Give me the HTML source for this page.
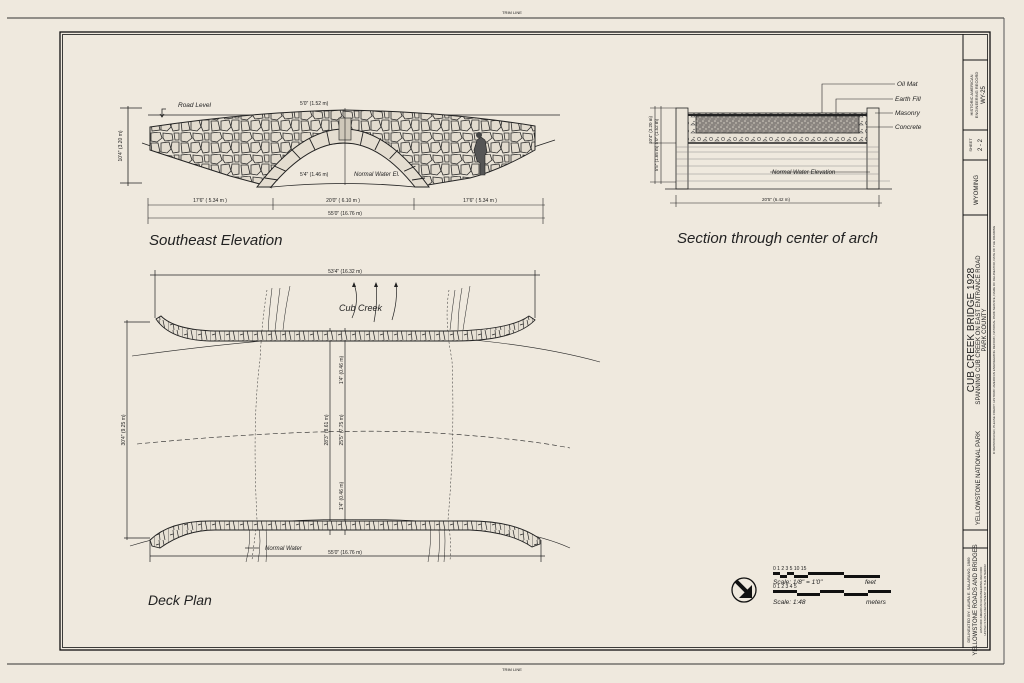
<!DOCTYPE html>
<html><head><meta charset="utf-8"><style>
html,body{margin:0;padding:0;background:#efe9de;}
svg{display:block}
text{font-family:"Liberation Sans",sans-serif;fill:#222}
.it{font-style:italic}
</style></head><body>
<svg width="1024" height="683" viewBox="0 0 1024 683" xmlns="http://www.w3.org/2000/svg">
<defs>
<pattern id="stone" width="30" height="22" patternUnits="userSpaceOnUse">
<rect width="30" height="22" fill="#e9e3d7"/>
<path d="M1 1 L10 0 L12 6 L7 10 L1 9 Z M13 1 L22 2 L23 8 L15 9 L13 6 Z M24 1 L29 1 L29 8 L25 8 Z M1 11 L8 11 L10 20 L2 21 Z M11 11 L19 10 L21 17 L17 21 L11 20 Z M22 10 L29 10 L29 20 L23 21 L21 16 Z" fill="#e2dbce" stroke="#2a2a2a" stroke-width="0.8"/>
</pattern>
<pattern id="stone2" width="14" height="10" patternUnits="userSpaceOnUse">
<rect width="14" height="10" fill="#e6e0d4"/>
<path d="M0 0 V10 M5 0 L6 10 M9 0 L11 10 M2 5 L5 4" stroke="#2a2a2a" stroke-width="0.7"/>
</pattern>
<pattern id="fill" width="6" height="6" patternUnits="userSpaceOnUse">
<rect width="6" height="6" fill="#8a8580"/>
<circle cx="1" cy="1" r="0.8" fill="#d8d2c6"/><circle cx="4" cy="3" r="0.7" fill="#e0dacd"/><circle cx="2" cy="5" r="0.6" fill="#cfc9bc"/>
</pattern>
<pattern id="conc" width="12" height="8" patternUnits="userSpaceOnUse">
<rect width="12" height="8" fill="#e8e2d6"/>
<circle cx="3" cy="3" r="1.6" fill="none" stroke="#555" stroke-width="0.6"/><path d="M7 5 l2 -2 l2 2z" fill="none" stroke="#555" stroke-width="0.6"/><circle cx="10" cy="1.5" r="0.6" fill="#444"/>
</pattern>
</defs>

<!-- trim & frame -->
<line x1="7" y1="18" x2="1004" y2="18" stroke="#333" stroke-width="1"/>
<line x1="1004" y1="18" x2="1004" y2="664" stroke="#555" stroke-width="1"/>
<line x1="7" y1="664" x2="1004" y2="664" stroke="#333" stroke-width="1"/>
<text x="512" y="14" font-size="4" text-anchor="middle">TRIM LINE</text>
<text x="512" y="671" font-size="4" text-anchor="middle">TRIM LINE</text>
<rect x="60" y="32" width="930" height="618" fill="none" stroke="#111" stroke-width="1.3"/>
<rect x="62.5" y="34.5" width="925" height="613" fill="none" stroke="#111" stroke-width="0.8"/>

<!-- title block -->
<g stroke="#111" stroke-width="1" fill="none">
<line x1="963" y1="34" x2="963" y2="648"/>
<line x1="963" y1="60" x2="988" y2="60"/>
<line x1="963" y1="130" x2="988" y2="130"/>
<line x1="963" y1="160" x2="988" y2="160"/>
<line x1="963" y1="215" x2="988" y2="215"/>
<line x1="963" y1="530" x2="988" y2="530"/>
<line x1="963" y1="548" x2="988" y2="548"/>
</g>
<g font-size="5.5">
<text transform="translate(973,95) rotate(-90)" text-anchor="middle" font-size="4">HISTORIC AMERICAN</text>
<text transform="translate(978,95) rotate(-90)" text-anchor="middle" font-size="4">ENGINEERING RECORD</text>
<text transform="translate(985,95) rotate(-90)" text-anchor="middle" font-size="6">WY-25</text>
<text transform="translate(972,145) rotate(-90)" text-anchor="middle" font-size="4">SHEET</text>
<text transform="translate(982,145) rotate(-90)" text-anchor="middle" font-size="6">2 - 2</text>
<text transform="translate(978,190) rotate(-90)" text-anchor="middle" font-size="6">WYOMING</text>
<text transform="translate(974,330) rotate(-90)" text-anchor="middle" font-size="10">CUB  CREEK  BRIDGE    1928</text>
<text transform="translate(980,330) rotate(-90)" text-anchor="middle" font-size="6">SPANNING CUB CREEK ON EAST ENTRANCE ROAD</text>
<text transform="translate(986,330) rotate(-90)" text-anchor="middle" font-size="6">PARK COUNTY</text>
<text transform="translate(980,478) rotate(-90)" text-anchor="middle" font-size="6">YELLOWSTONE  NATIONAL  PARK</text>
<text transform="translate(970,600) rotate(-90)" text-anchor="middle" font-size="4">DELINEATED BY: LAURA E. SALARANO, 1989</text>
<text transform="translate(977,600) rotate(-90)" text-anchor="middle" font-size="6">YELLOWSTONE ROADS AND BRIDGES</text>
<text transform="translate(982,600) rotate(-90)" text-anchor="middle" font-size="3">HISTORIC AMERICAN ENGINEERING RECORD</text>
<text transform="translate(986,600) rotate(-90)" text-anchor="middle" font-size="3">UNITED STATES DEPARTMENT OF THE INTERIOR</text>
<text transform="translate(995,340) rotate(-90)" text-anchor="middle" font-size="3">IF REPRODUCED, PLEASE CREDIT: HISTORIC AMERICAN ENGINEERING RECORD, NATIONAL PARK SERVICE, NAME OF DELINEATOR, DATE OF THE DRAWING</text>
</g>

<!-- SOUTHEAST ELEVATION -->
<g stroke="#222" stroke-width="0.8" fill="none">
<line x1="148" y1="115" x2="560" y2="115"/>
<path d="M166 109 h-4 v8" /><path d="M160 114 l2 3 l2 -3"/>
<line x1="120" y1="108" x2="142" y2="108"/><line x1="120" y1="183" x2="142" y2="183"/>
<line x1="128" y1="106" x2="128" y2="186"/>
<line x1="142" y1="143" x2="272" y2="188"/><line x1="415" y1="186" x2="555" y2="140"/>
</g>
<path d="M150 127 Q250 112 345 110 Q450 112 535 126 L535 150 Q500 170 470 178 L416 187 Q400 145 345 143 Q290 145 271 187 L230 176 Q180 160 150 150 Z" fill="url(#stone)" stroke="#222" stroke-width="1"/>
<path d="M257 187 Q345 71 429 187 L415 187 Q345 99 271 187 Z" fill="#e4ddd0" stroke="#222" stroke-width="1"/>
<g stroke="#222" stroke-width="0.9">
<line x1="285.8" y1="171.2" x2="274.6" y2="166.1"/><line x1="300.4" y1="158.8" x2="292.1" y2="149.9"/><line x1="315.1" y1="150" x2="309.4" y2="138.3"/><line x1="329.6" y1="144.8" x2="326.7" y2="131.3"/>
<line x1="360.4" y1="144.8" x2="363.3" y2="131.3"/><line x1="374.9" y1="150" x2="380.6" y2="138.3"/><line x1="389.6" y1="158.8" x2="397.9" y2="149.9"/><line x1="404.2" y1="171.2" x2="415.4" y2="166.1"/>
<line x1="278" y1="180" x2="265" y2="178"/><line x1="412" y1="180" x2="425" y2="178"/>
</g>
<path d="M272 187 Q345 180 415 187" fill="#efe9de" stroke="#222" stroke-width="0.8"/>
<rect x="339" y="118" width="12" height="22" fill="#cfc8ba" stroke="#333" stroke-width="0.7"/>
<path d="M474 150 l3 -10 l4 -3 l4 3 l2 12 l-2 3 v20 h-5 v-12 l-3 -2 z" fill="#555" stroke="#222" stroke-width="0.6"/>
<circle cx="479" cy="135" r="3" fill="#444"/>
<g stroke="#222" stroke-width="0.6">
<line x1="345" y1="108" x2="345" y2="185"/>
<line x1="148" y1="205" x2="545" y2="205"/><line x1="148" y1="218" x2="545" y2="218"/>
<line x1="148" y1="198" x2="148" y2="224"/><line x1="273" y1="198" x2="273" y2="210"/><line x1="414" y1="198" x2="414" y2="210"/><line x1="543" y1="198" x2="543" y2="224"/>
</g>
<g font-size="5">
<text x="178" y="107" font-size="6.5" class="it">Road  Level</text>
<text x="300" y="105">5'0" (1.52 m)</text>
<text x="300" y="176">5'4" (1.46 m)</text>
<text x="354" y="176" font-size="6" class="it">Normal Water El.</text>
<text transform="translate(122,146) rotate(-90)" text-anchor="middle">10'4" (3.20 m)</text>
<text x="210" y="202" text-anchor="middle">17'6" ( 5.34 m )</text>
<text x="343" y="202" text-anchor="middle">20'0" ( 6.10 m )</text>
<text x="480" y="202" text-anchor="middle">17'6" ( 5.34 m )</text>
<text x="345" y="215" text-anchor="middle">55'0" (16.76 m)</text>
</g>
<text x="149" y="245" font-size="15" class="it">Southeast  Elevation</text>

<!-- SECTION -->
<g stroke="#222" stroke-width="0.8">
<rect x="688" y="113" width="179" height="30" fill="url(#conc)"/>
<path d="M696 116 H859 V133 H696 Z" fill="url(#fill)"/>
<line x1="688" y1="115" x2="867" y2="115" stroke-width="2"/>
<line x1="688" y1="143" x2="867" y2="143" stroke-width="1.5"/>
<rect x="676" y="108" width="12" height="81" fill="#ebe5d9"/>
<rect x="867" y="108" width="12" height="81" fill="#ebe5d9"/>
<g stroke-width="0.4" stroke="#777">
<line x1="676" y1="147" x2="879" y2="147"/><line x1="676" y1="152" x2="879" y2="152"/><line x1="676" y1="159" x2="879" y2="159"/><line x1="676" y1="166" x2="879" y2="166"/><line x1="676" y1="174" x2="879" y2="174"/><line x1="676" y1="181" x2="890" y2="181"/>
</g>
<line x1="665" y1="189" x2="892" y2="189"/>
<line x1="670" y1="203" x2="882" y2="203" stroke-width="0.6"/>
<line x1="676" y1="195" x2="676" y2="207" stroke-width="0.6"/><line x1="879" y1="195" x2="879" y2="207" stroke-width="0.6"/>
<line x1="650" y1="108" x2="676" y2="108" stroke-width="0.6"/><line x1="650" y1="143" x2="676" y2="143" stroke-width="0.6"/><line x1="650" y1="182" x2="676" y2="182" stroke-width="0.6"/>
<line x1="655" y1="106" x2="655" y2="184" stroke-width="0.6"/><line x1="661" y1="106" x2="661" y2="184" stroke-width="0.6"/>
<g fill="none" stroke-width="0.6">
<polyline points="822,113 822,84 895,84"/>
<polyline points="836,120 836,99 893,99"/>
<line x1="875" y1="113" x2="893" y2="113"/>
<line x1="866" y1="127" x2="893" y2="127"/>
<line x1="770" y1="172" x2="870" y2="172"/>
</g>
</g>
<g font-size="6.5" class="it">
<text x="897" y="86">Oil Mat</text><text x="895" y="101">Earth Fill</text><text x="895" y="115">Masonry</text><text x="895" y="129">Concrete</text>
<text x="772" y="174" font-size="6">Normal Water Elevation</text>
</g>
<g font-size="4.5">
<text x="776" y="201" text-anchor="middle">20'5" (6.42 m)</text>
<text transform="translate(652,130) rotate(-90)" text-anchor="middle">10'4" (3.20 m)</text>
<text transform="translate(658,145) rotate(-90)" text-anchor="middle">5'5" (1.65 m) 5'0" (1.52 m)</text>
</g>
<text x="677" y="243" font-size="15" class="it">Section  through  center  of  arch</text>

<!-- DECK PLAN -->
<g stroke="#222" stroke-width="0.7" fill="none">
<line x1="150" y1="275" x2="540" y2="275"/>
<line x1="155" y1="270" x2="155" y2="318"/><line x1="535" y1="270" x2="535" y2="318"/>
<line x1="124" y1="322" x2="150" y2="322"/><line x1="124" y1="538" x2="150" y2="538"/>
<line x1="127" y1="320" x2="127" y2="540"/>
<line x1="150" y1="556" x2="545" y2="556"/>
<line x1="150" y1="540" x2="150" y2="562"/><line x1="541" y1="540" x2="541" y2="562"/>
<path d="M132 356 Q300 333 400 335 Q520 340 600 362" stroke-width="0.6"/>
<path d="M137 444 Q300 428 420 432 Q520 438 570 448" stroke-dasharray="5 3" stroke-width="0.6"/>
<path d="M130 546 Q230 515 400 520 Q520 525 570 548" stroke-width="0.6"/>
<line x1="330" y1="328" x2="330" y2="535"/><line x1="345" y1="328" x2="345" y2="535"/>
<path d="M267 290 Q262 320 260 360 Q252 420 257 520 L252 560" stroke-dasharray="2 2" stroke-width="0.5"/>
<path d="M272 288 Q268 320 268 340" stroke-width="0.5"/><path d="M280 288 Q276 320 274 340" stroke-width="0.5"/><path d="M290 286 Q285 310 283 330" stroke-width="0.5"/>
<path d="M449 290 Q444 320 452 360 Q455 440 448 520 Q452 545 450 560" stroke-dasharray="2 2" stroke-width="0.5"/>
<path d="M455 290 Q452 310 450 330" stroke-width="0.5"/><path d="M462 288 Q458 310 458 330" stroke-width="0.5"/><path d="M470 286 Q466 310 463 330" stroke-width="0.5"/>
<path d="M248 522 Q252 540 246 562" stroke-width="0.5"/><path d="M258 522 Q262 540 258 562" stroke-width="0.5"/><path d="M265 522 Q268 540 266 562" stroke-width="0.5"/>
<path d="M430 522 Q432 540 428 562" stroke-width="0.5"/><path d="M438 522 Q441 540 438 562" stroke-width="0.5"/><path d="M444 522 Q446 540 444 562" stroke-width="0.5"/>
<path d="M352 318 Q360 300 354 284"/><path d="M374 322 Q378 300 376 284"/><path d="M392 320 Q398 300 396 284"/>
<path d="M245 548 h14"/>
</g>
<g fill="#222"><path d="M354 282 l-2 5 h4z"/><path d="M376 282 l-2 5 h4z"/><path d="M396 282 l-2 5 h4z"/></g>
<path d="M156 319 L161 316 Q175 330 215 331 H450 Q510 330 529 316 L535 320 Q515 341 455 341 H210 Q170 340 156 319 Z" fill="url(#stone2)" stroke="#222" stroke-width="0.9"/>
<path d="M150 540 L152 546 L160 548 Q185 530 215 530 H470 Q510 532 532 547 L540 544 L540 539 Q515 521 470 521 H210 Q170 521 150 540 Z" fill="url(#stone2)" stroke="#222" stroke-width="0.9"/>
<g font-size="5">
<text x="345" y="273" text-anchor="middle">53'4" (16.32 m)</text>
<text x="345" y="554" text-anchor="middle">55'0" (16.76 m)</text>
<text transform="translate(125,430) rotate(-90)" text-anchor="middle">30'4" (9.25 m)</text>
<text transform="translate(328,430) rotate(-90)" text-anchor="middle">28'3" (8.61 m)</text>
<text transform="translate(343,430) rotate(-90)" text-anchor="middle">25'5" (7.75 m)</text>
<text transform="translate(343,370) rotate(-90)" text-anchor="middle">1'4" (0.46 m)</text>
<text transform="translate(343,496) rotate(-90)" text-anchor="middle">1'4" (0.46 m)</text>
</g>
<text x="339" y="311" font-size="9" class="it">Cub  Creek</text>
<text x="265" y="550" font-size="6" class="it">Normal Water</text>
<text x="148" y="605" font-size="14" class="it">Deck  Plan</text>

<!-- north arrow & scale -->
<circle cx="744" cy="590" r="12" fill="none" stroke="#111" stroke-width="1.3"/>
<path d="M736 581 L749 594" stroke="#111" stroke-width="4"/>
<path d="M752 585 V598 H739 Z" fill="#111"/>
<g fill="#111">
<rect x="773" y="572" width="7" height="3"/><rect x="780" y="575" width="7" height="3"/><rect x="787" y="572" width="7" height="3"/><rect x="794" y="575" width="14" height="3"/><rect x="808" y="572" width="36" height="3"/><rect x="844" y="575" width="36" height="3"/>
<rect x="773" y="590" width="24" height="3"/><rect x="797" y="593" width="23" height="3"/><rect x="820" y="590" width="24" height="3"/><rect x="844" y="593" width="24" height="3"/><rect x="868" y="590" width="23" height="3"/>
</g>
<g font-size="5"><text x="773" y="570">0 1 2 3   5          10          15</text><text x="773" y="588">0       1       2       3       4       5</text></g>
<g font-size="6.5" class="it"><text x="773" y="584">Scale: 1/8" = 1'0"</text><text x="865" y="584">feet</text><text x="773" y="604">Scale: 1:48</text><text x="866" y="604">meters</text></g>
</svg>
</body></html>
